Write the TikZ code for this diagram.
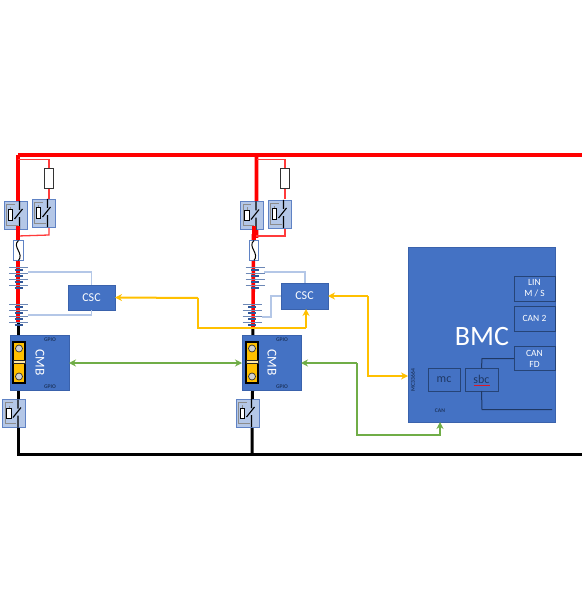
\documentclass[tikz,border=0pt]{standalone}
\usepackage{fontspec}
\setmainfont{Carlito}
\definecolor{bblue}{HTML}{4472C4}
\definecolor{bedge}{HTML}{3A62AC}
\definecolor{lblue}{HTML}{B4C7E7}
\definecolor{medge}{HTML}{5F82C4}
\definecolor{yel}{HTML}{FFC000}
\definecolor{grn}{HTML}{70AD47}
\definecolor{darkb}{HTML}{1F3864}
\definecolor{plate}{HTML}{2F5597}
\definecolor{lred}{HTML}{FF3B3B}
\usetikzlibrary{arrows.meta}
\tikzset{
  every node/.style={inner sep=0pt,outer sep=0pt,text=white,align=center},
  bluebox/.style={rectangle,fill=bblue,draw=bedge,line width=.8pt},
  subbox/.style={rectangle,fill=bblue,draw=darkb!80!bblue,line width=1pt,text=white},
  tiny label/.style={font=\fontsize{5.6}{5.6}\selectfont\bfseries,text=darkb},
  powerline/.style={red,line width=3.6pt},
  groundline/.style={black,line width=3pt},
  thinred/.style={lred,line width=1.3pt},
  sense/.style={lblue,line width=1.2pt},
  yelline/.style={yel,line width=2pt,-{Stealth[length=7pt,width=7pt]}},
  grnline/.style={grn,line width=2pt,-{Stealth[length=7pt,width=7pt]}},
  res/.style={rectangle,fill=white,draw=black!80,line width=1pt,minimum width=9pt,minimum height=20pt},
  swmod/.pic={
    \node[rectangle,fill=lblue,draw=medge,line width=.9pt,minimum width=23pt,minimum height=28pt] (-box) at (0,0) {};
    \draw[black!45,line width=.9pt] (-1,-11) -- (-9,-11) -- (-9,10) -- (2,10);
    \draw[black!45,line width=.9pt] (-5,-8) -- (-5,-5);
    \node[rectangle,fill=white,draw=black,line width=1pt,minimum width=4.5pt,minimum height=10pt] at (-5,0) {};
    \draw[black,line width=1.1pt] (4,-14) -- (4,-5) (-1,4) -- (7,-6) (4,2) -- (4,14);
  },
  cmbrelay/.pic={
    \node[rectangle,fill=yel,draw=black,line width=1.1pt,minimum width=12pt,minimum height=41pt] (-box) at (0,0) {};
    \draw[black!85,line width=.7pt,fill=yel!35] (-6,-2) rectangle (6,1.2);
    \node[circle,fill=black!18,draw=black!80,line width=.7pt,minimum size=7pt] at (0,-14) {};
    \node[circle,fill=black!18,draw=black!80,line width=.7pt,minimum size=7pt] at (0,14) {};
  },
  cellgroup/.pic={
    \foreach \yy in {0,6,12,18}{
      \draw[plate!70!white,line width=1pt] (-9.5,\yy) -- (9.5,\yy);
    }
    \foreach \yy in {2.8,8.8,14.8,20.8}{
      \draw[plate,line width=2.6pt] (-4,\yy) -- (4,\yy);
    }
  },
  fuse/.pic={
    \node[rectangle,fill=white,draw=medge,line width=1.1pt,minimum width=9.5pt,minimum height=20pt] (-box) at (0,0) {};
    \draw[black,line width=1pt] (0,-10) .. controls (-7,-4) and (6,3) .. (0,10);
  }
}
\begin{document}
\begin{tikzpicture}[x=1pt,y=-1pt]
\useasboundingbox (0,0) rectangle (582,612);
% named points
\coordinate (topA) at (18,155);
\coordinate (topB) at (256.5,155);
\coordinate (topEnd) at (582,155);
\coordinate (botA) at (18,454);
\coordinate (botB) at (252,454);
\coordinate (botEnd) at (582,454);
\coordinate (midA) at (18,322);
\coordinate (midB) at (253,328);
\coordinate (jogA) at (18,236);
\coordinate (jogB) at (253.5,236);
% power rails
\draw[groundline] (midA) -- (botA) -- (botEnd);
\draw[groundline] (midB) -- (botB);
\draw[powerline] (topA) -- (topEnd);
\draw[powerline] (topA) -- (midA);
\draw[powerline] (topB) -- (256.5,236) -- (jogB) -- (midB);
% precharge branches
\draw[thinred] (18,159.5) -- (49,159.5) -- (49,199);
\draw[thinred] (49,227) -- (49,235) -- (jogA);
\draw[thinred] (256.5,159.5) -- (285,159.5) -- (285,199);
\draw[thinred] (285,227) -- (285,236) -- (jogB);
\node[res] (rA) at (48.5,179) {};
\node[res] (rB) at (284.5,179) {};
% switches
\pic (sA1) at (15.5,215) {swmod};
\pic (sA2) at (43.5,213) {swmod};
\pic (sB1) at (252,215.5) {swmod};
\pic (sB2) at (279.5,214) {swmod};
\pic (sA3) at (14,413.5) {swmod};
\pic (sB3) at (247.5,413) {swmod};
\draw[powerline] (18,226) -- (18,240);
\draw[powerline] (254,226) -- (254,240);
% fuses
\pic (fA) at (18.5,250.5) {fuse};
\pic (fB) at (254,250.5) {fuse};
% CSC and sense wires
\node[bluebox,minimum width=47pt,minimum height=25pt,font=\fontsize{12}{12}\selectfont] (cscA) at (91.5,297.5) {CSC};
\node[bluebox,minimum width=47pt,minimum height=26pt,font=\fontsize{12}{12}\selectfont] (cscB) at (304.5,296) {CSC};
\coordinate (sA1t) at (28,272); \coordinate (sA2t) at (28,315);
\coordinate (sB1t) at (264,272); \coordinate (sB2t) at (262,317);
\draw[sense] (sA1t) -- (91.5,272) -- (cscA.north);
\draw[sense] (sA2t) -- (91.5,315) -- (cscA.south);
\draw[sense] (sB1t) -- (305,272) -- (305,283);
\draw[sense] (sB2t) -- (271,317) -- (271,296) -- (cscB.west);
% cells
\foreach \p/\xx/\yy in {cA1/18.5/267,cA2/18.5/304,cB1/255/267,cB2/252/304}{
  \pic (\p) at (\xx,\yy) {cellgroup};
}
% CMB
\node[bluebox,minimum width=59pt,minimum height=55pt] (cmbA) at (39.5,363) {};
\node[bluebox,minimum width=59pt,minimum height=55pt] (cmbB) at (271.5,363) {};
\pic (relA) at (19,362.5) {cmbrelay};
\pic (relB) at (252,362.5) {cmbrelay};
\node[rotate=-90,font=\fontsize{13.5}{13.5}\selectfont] (cmbAt) at (40,362.5) {CMB};
\node[rotate=-90,font=\fontsize{13.5}{13.5}\selectfont] (cmbBt) at (272,362.5) {CMB};
\node[tiny label] (gA1) at (50,339.5) {GPIO};
\node[tiny label] (gA2) at (50,386.5) {GPIO};
\node[tiny label] (gB1) at (282,339.5) {GPIO};
\node[tiny label] (gB2) at (282,386.5) {GPIO};
% BMC
\node[bluebox,minimum width=147pt,minimum height=175pt] (bmc) at (481.5,334.5) {};
\node[font=\fontsize{28}{28}\selectfont] (bmct) at (482,337) {BMC};
\node[subbox,minimum width=41pt,minimum height=25pt,font=\fontsize{9.5}{11}\selectfont] (lin) at (534.5,288.5) {LIN\\M / S};
\node[subbox,minimum width=41pt,minimum height=25pt,font=\fontsize{9.5}{10}\selectfont] (can2) at (534.5,318.5) {CAN 2};
\node[subbox,minimum width=41pt,minimum height=24pt,font=\fontsize{9.5}{11}\selectfont] (canfd) at (534.5,358.5) {CAN\\FD};
\node[subbox,minimum width=32pt,minimum height=23pt,text=darkb,font=\fontsize{12}{12}\selectfont] (mc) at (444,379.5) {mc};
\node[subbox,minimum width=33pt,minimum height=23pt,text=darkb,font=\fontsize{12}{12}\selectfont] (sbc) at (481.5,379.5) {sbc};
\draw[red!80!bblue,line width=.7pt] (473.5,385) -- (489.5,385);
\coordinate (sbcEnd) at (552,409.5);
\draw[darkb,line width=1pt] (sbc.north) -- (482,358.5) -- (canfd.west);
\draw[darkb,line width=1pt] (sbc.south) -- (482,409.5) -- (sbcEnd);
\node[tiny label,rotate=90] (mct) at (413,380) {MC33664};
\node[tiny label] (cant) at (440,411) {CAN};
% yellow links
\draw[yelline] (198,298) -- (cscA.east);
\draw[yel,line width=2pt] (198,298) -- (198,328) -- (306,328);
\draw[yelline] (306,328) -- (cscB.south -| 306,0);
\draw[yelline] (368,296) -- (cscB.east);
\draw[yelline] (368,296) -- (368,376) -- (bmc.west |- 0,376);
% green links
\draw[grnline,{Stealth[length=7pt,width=7pt]}-{Stealth[length=7pt,width=7pt]}] (cmbA.east) -- (cmbB.west);
\draw[grnline] (357,363) -- (cmbB.east);
\draw[grnline] (357,363) -- (357,435) -- (440,435) -- (bmc.south -| 440,0);
\end{tikzpicture}
\end{document}
